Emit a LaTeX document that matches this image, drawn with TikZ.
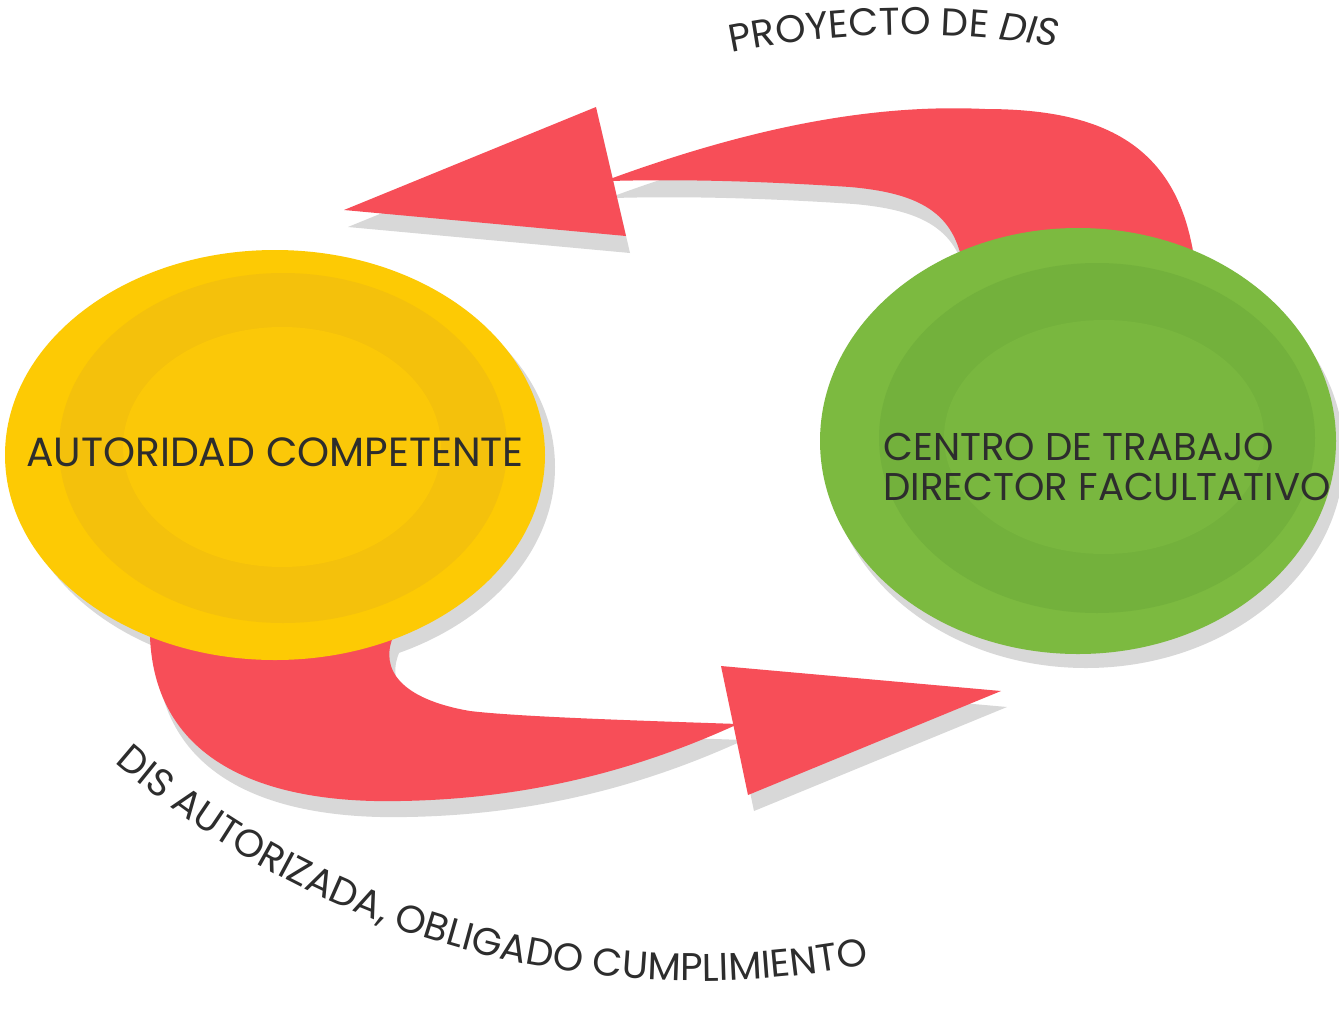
\documentclass[tikz,border=0pt]{standalone}
\usepackage{fontspec}
\setmainfont{Poppins}
\usepackage{tikz}
\usetikzlibrary{shapes.geometric,decorations.text}
\definecolor{arrowred}{RGB}{247,78,88}
\definecolor{shadowgrey}{RGB}{216,216,216}
\definecolor{yellowbase}{RGB}{253,202,4}
\definecolor{yellowring}{RGB}{244,193,12}
\definecolor{yellowcore}{RGB}{251,200,8}
\definecolor{greenbase}{RGB}{124,186,64}
\definecolor{greenring}{RGB}{115,177,60}
\definecolor{greencore}{RGB}{121,183,63}
\definecolor{textdark}{RGB}{45,45,45}
\newcommand\labelfont{\fontsize{11}{11.4}\selectfont}
\tikzset{
  disc/.style={ellipse,inner sep=0pt},
  disctext/.style={font=\labelfont,text=textdark,align=left,inner sep=0pt},
  curvedtext/.style={decorate,decoration={text along path,text align=center,text color=textdark}},
}
\tikzstyle{shade}=[shadowgrey]
\newcommand\topshaft{(6.10,8.30) .. controls (7.60,8.85) and (8.80,9.05) .. (9.85,9.00)
  .. controls (11.10,9.00) and (11.90,8.60) .. (11.97,7.20) -- (9.65,7.20)
  .. controls (9.63,7.90) and (9.30,8.15) .. (8.50,8.22)
  .. controls (7.60,8.28) and (6.80,8.30) .. (6.10,8.28) -- cycle}
\newcommand\tophead{(3.44,7.99) -- (5.96,9.02) -- (6.26,7.73) -- cycle}
\newcommand\bottomshaft{(1.45,4.20) -- (1.50,3.72) .. controls (1.55,2.50) and (2.60,2.05) .. (4.00,2.08)
  .. controls (5.30,2.10) and (6.40,2.40) .. (7.38,2.85)
  .. controls (6.50,2.88) and (5.20,2.92) .. (4.70,2.98)
  .. controls (4.00,3.10) and (3.80,3.40) .. (3.93,3.72) -- (3.95,4.20) -- cycle}
\newcommand\bottomhead{(10.01,3.18) -- (7.21,3.43) -- (7.48,2.14) -- cycle}

\begin{document}
\begin{tikzpicture}
    \fill[white] (0,0) rectangle (13.39,10.09);
    \useasboundingbox (0,0) rectangle (13.39,10.09);
    \begin{scope}[shade]
      \fill[shift={(0.04,-0.17)}] \topshaft;
      \fill[shift={(0.04,-0.17)}] \tophead;
      \fill[shift={(0.06,-0.16)}] \bottomshaft;
      \fill[shift={(0.06,-0.16)}] \bottomhead;
      \fill (2.85,5.42) ellipse [x radius=2.70, y radius=2.05];
      \fill (10.86,5.54) ellipse [x radius=2.58, y radius=2.13];
    \end{scope}
    \begin{scope}[arrowred]
      \fill \topshaft;
      \fill \tophead;
      \fill \bottomshaft;
      \fill \bottomhead;
    \end{scope}
    \node[disc,fill=yellowbase,minimum width=5.40cm,minimum height=4.10cm,path picture={
        \fill[yellowring] ([shift={(0.08,0.07)}]path picture bounding box.center) ellipse [x radius=2.24, y radius=1.75];
        \fill[yellowcore] ([shift={(0.07,0.08)}]path picture bounding box.center) ellipse [x radius=1.59, y radius=1.20];
      }] (auth) at (2.75,5.54) {};
    \node[disc,fill=greenbase,minimum width=5.16cm,minimum height=4.26cm,path picture={
        \fill[greenring] ([shift={(0.19,0.03)}]path picture bounding box.center) ellipse [x radius=2.18, y radius=1.75];
        \fill[greencore] ([shift={(0.26,0.04)}]path picture bounding box.center) ellipse [x radius=1.60, y radius=1.17];
      }] (centre) at (10.78,5.68) {};
    \node[disctext,font=\fontsize{11.6}{12}\selectfont] (authlabel) at (2.75,5.57) {AUTORIDAD COMPETENTE};
    \node[disctext] (centrelabel) at (11.07,5.42) {CENTRO DE TRABAJO\\DIRECTOR FACULTATIVO};
    \path[curvedtext,decoration={text={|\labelfont|PROYECTO DE |\labelfont\itshape|DIS}}]
      ([shift={(101.7:9)}]9.10,0.74) arc [start angle=101.7, end angle=80.3, radius=9];
    \path[curvedtext,decoration={text={|\labelfont|DIS AUTORIZADA, OBLIGADO CUMPLIMIENTO}}]
      ([shift={(229:8.87)}]6.98,9.15) arc [start angle=229, end angle=281, radius=8.87];
\end{tikzpicture}
\end{document}
